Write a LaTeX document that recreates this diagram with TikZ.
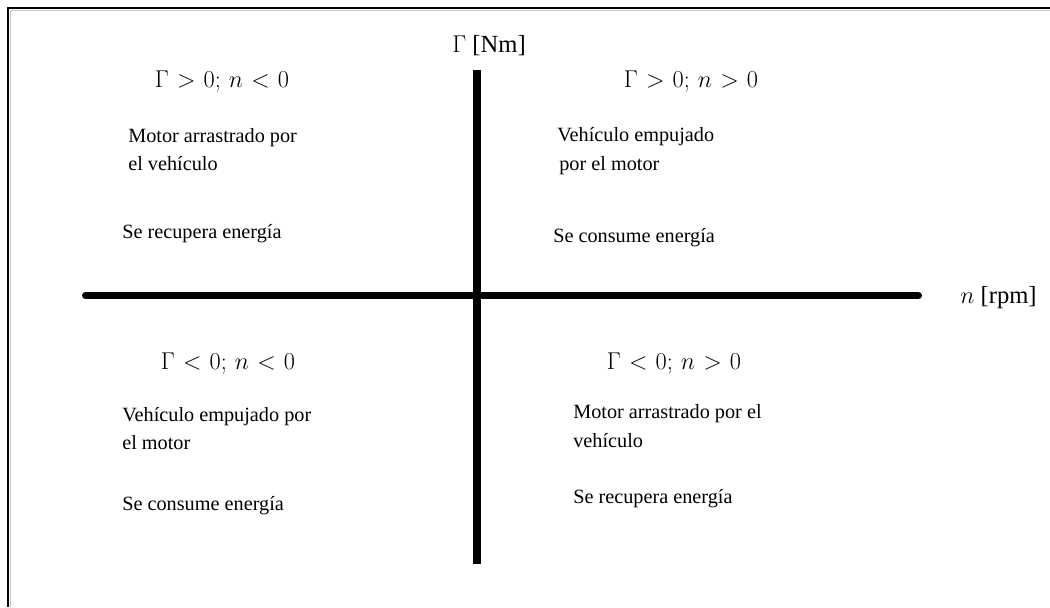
\documentclass[tikz,border=0pt]{standalone}
\usepackage{fontspec}
\setmainfont{Liberation Serif}
\tikzset{
    axis/.style={black, line width=5pt},
    frame/.style={black, line width=2pt},
    shadow/.style={gray!45, line width=1.2pt},
    % quadrant conditions
    cond/.style={anchor=base, inner sep=0pt, font=\fontsize{16.5}{19}\selectfont, execute at begin node={\thickmuskip=6mu}},
    % quadrant descriptions
    desc/.style={anchor=base west, inner sep=0pt, font=\fontsize{14.4}{17}\selectfont},
    axlabel/.style={desc, font=\fontsize{17.5}{20}\selectfont}
}
\begin{document}
\begin{tikzpicture}[x=0.025cm, y=-0.025cm]
\useasboundingbox (0,0) rectangle (1050,607);
% Frame (top and left edges)
\draw[shadow] (10.5,607) -- (10.5,10.5) -- (1050,10.5);
\draw[frame] (8,607) -- (8,8) -- (1050,8);

% Axes
\coordinate (xl) at (85.5,295.5);
\coordinate (xr) at (918.5,295.5);
\coordinate (yt) at (477,70);
\coordinate (yb) at (477,564);
\draw[axis, line cap=round] (xl) -- (xr);
\draw[axis, line width=5.7pt] (yt) -- (yb);
\node[axlabel] (gam) at (452,52) {$\Gamma$ [Nm]};
\node[axlabel] (rpm) at (960,303) {$n$ [rpm]};

% Upper left quadrant
\node[cond] (c1) at (222,87) {$\Gamma>0;\,n<0$};
\node[desc] (a1) at (128,142) {Motor arrastrado por};
\node[desc] (a2) at (128,170) {el vehículo};
\node[desc] (a3) at (122,238) {Se recupera energía};

% Upper right quadrant
\node[cond] (c2) at (691,87) {$\Gamma>0;\,n>0$};
\node[desc] (b1) at (557,141) {Vehículo empujado};
\node[desc] (b2) at (559,170) {por el motor};
\node[desc] (b3) at (553,242) {Se consume energía};

% Lower left quadrant
\node[cond] (c3) at (228,369) {$\Gamma<0;\,n<0$};
\node[desc] (d1) at (122,421) {Vehículo empujado por};
\node[desc] (d2) at (122,449) {el motor};
\node[desc] (d3) at (122,510) {Se consume energía};

% Lower right quadrant
\node[cond] (c4) at (674,369) {$\Gamma<0;\,n>0$};
\node[desc] (e1) at (573,418) {Motor arrastrado por el};
\node[desc] (e2) at (573,447) {vehículo};
\node[desc] (e3) at (573,503) {Se recupera energía};
\end{tikzpicture}
\end{document}
